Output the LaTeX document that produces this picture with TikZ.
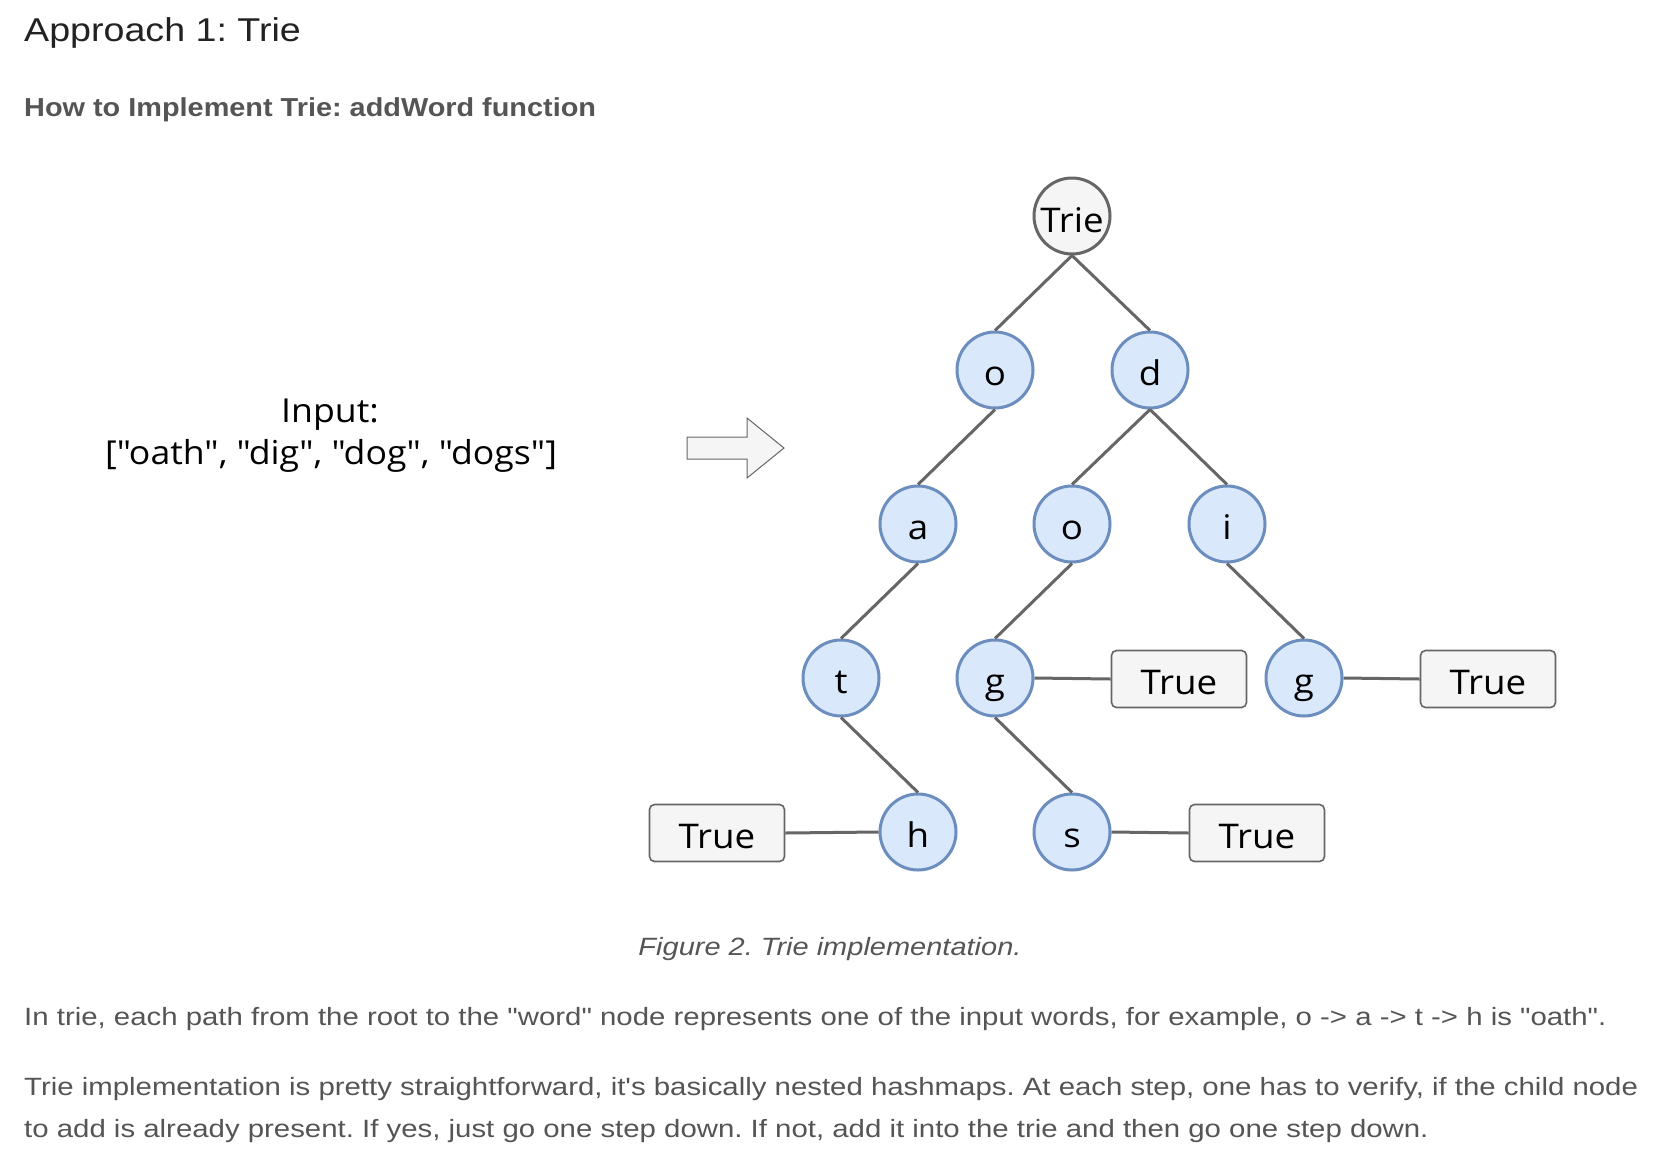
\documentclass[tikz,border=0pt]{standalone}
\usepackage{fontspec}
\setmainfont{Liberation Sans}
\newfontfamily\bodyfont[FakeStretch=1.175]{Liberation Sans}
\newfontfamily\titlefont[FakeStretch=1.14]{Liberation Sans}
\newfontfamily\subfont[FakeStretch=1.11]{Liberation Sans}
\newfontfamily\capfont[FakeStretch=1.16]{Liberation Sans}
\newfontfamily\handfont[FakeStretch=1.08]{Open Sans}
\definecolor{edgegray}{HTML}{666666}
\definecolor{boxfill}{HTML}{F5F5F5}
\definecolor{bluefill}{HTML}{DAE8FC}
\definecolor{bluedraw}{HTML}{6C8EBF}
\definecolor{txtgray}{HTML}{555555}
\definecolor{titlecol}{HTML}{222222}
\tikzset{
  letter/.style={circle, draw=bluedraw, fill=bluefill, line width=3pt, minimum size=76pt, inner sep=0pt, text=black, text height=30pt, text depth=0pt, font=\handfont\fontsize{34}{36}\selectfont},
  rootnode/.style={circle, draw=edgegray, fill=boxfill, line width=3pt, minimum size=76pt, inner sep=0pt, text=black, text height=32pt, text depth=0pt, font=\handfont\fontsize{34}{36}\selectfont},
  truebox/.style={rectangle, rounded corners=5pt, draw=edgegray, fill=boxfill, line width=1.6pt, minimum width=135pt, minimum height=57pt, inner sep=0pt, text=black, text height=30pt, text depth=0pt, font=\handfont\fontsize{34}{36}\selectfont},
  edge/.style={draw=edgegray, line width=3pt},
  bodytext/.style={anchor=base west, inner sep=0pt, text=txtgray, font=\bodyfont\fontsize{25}{30}\selectfont}
}
\begin{document}
\frenchspacing
\begin{tikzpicture}[x=1pt,y=-1pt]
\path[use as bounding box, fill=white] (0,0) rectangle (1654,1168);
% headings
\node[anchor=base west, inner sep=0pt, text=titlecol, font=\titlefont\fontsize{33}{38}\selectfont] (title) at (24,41) {Approach 1: Trie};
\node[anchor=base west, inner sep=0pt, text=txtgray, font=\subfont\bfseries\fontsize{26}{30}\selectfont] (sub) at (24,116) {How to Implement Trie: addWord function};
% input
\node[anchor=base, inner sep=0pt, font=\handfont\fontsize{33}{36}\selectfont] (inp1) at (330,422) {Input:};
\node[anchor=base, inner sep=0pt, font=\handfont\fontsize{33}{36}\selectfont] (inp2) at (331,464) {[\char34 oath\char34, \char34 dig\char34, \char34 dog\char34, \char34 dogs\char34]};
% arrow
\draw[draw=edgegray, fill=boxfill, line width=1pt] (687,437) -- (747,437) -- (747,418) -- (784,448) -- (747,478) -- (747,459) -- (687,459) -- cycle;
% tree nodes
\node[rootnode] (root) at (1072,216) {Trie};
\node[letter] (o1) at (995,370) {o};
\node[letter] (d1) at (1150,370) {d};
\node[letter] (a1) at (918,524) {a};
\node[letter] (o2) at (1072,524) {o};
\node[letter] (i1) at (1227,524) {i};
\node[letter] (t1) at (841,678) {t};
\node[letter] (g1) at (995,678) {g};
\node[letter] (g2) at (1304,678) {g};
\node[letter] (h1) at (918,832) {h};
\node[letter] (s1) at (1072,832) {s};
\node[truebox] (tr1) at (1179,679) {True};
\node[truebox] (tr2) at (1488,679) {True};
\node[truebox] (tr3) at (717,833) {True};
\node[truebox] (tr4) at (1257,833) {True};
% edges
\draw[edge] (root.south) -- (o1.north);
\draw[edge] (root.south) -- (d1.north);
\draw[edge] (o1.south) -- (a1.north);
\draw[edge] (d1.south) -- (o2.north);
\draw[edge] (d1.south) -- (i1.north);
\draw[edge] (a1.south) -- (t1.north);
\draw[edge] (o2.south) -- (g1.north);
\draw[edge] (i1.south) -- (g2.north);
\draw[edge] (t1.south) -- (h1.north);
\draw[edge] (g1.south) -- (s1.north);
\draw[edge] (g1.east) -- (tr1.west);
\draw[edge] (g2.east) -- (tr2.west);
\draw[edge] (tr3.east) -- (h1.west);
\draw[edge] (s1.east) -- (tr4.west);
% caption and text
\node[anchor=base, inner sep=0pt, text=txtgray, font=\capfont\itshape\fontsize{25}{30}\selectfont] (cap) at (830,955) {Figure 2. Trie implementation.};
\node[bodytext] (p1) at (24,1025) {In trie, each path from the root to the \char34 word\char34\ node represents one of the input words, for example, o -> a -> t -> h is \char34 oath\char34.};
\node[bodytext] (p2) at (24,1095) {Trie implementation is pretty straightforward, it\char39 s basically nested hashmaps. At each step, one has to verify, if the child node};
\node[bodytext] (p3) at (24,1137) {to add is already present. If yes, just go one step down. If not, add it into the trie and then go one step down.};
\end{tikzpicture}
\end{document}
